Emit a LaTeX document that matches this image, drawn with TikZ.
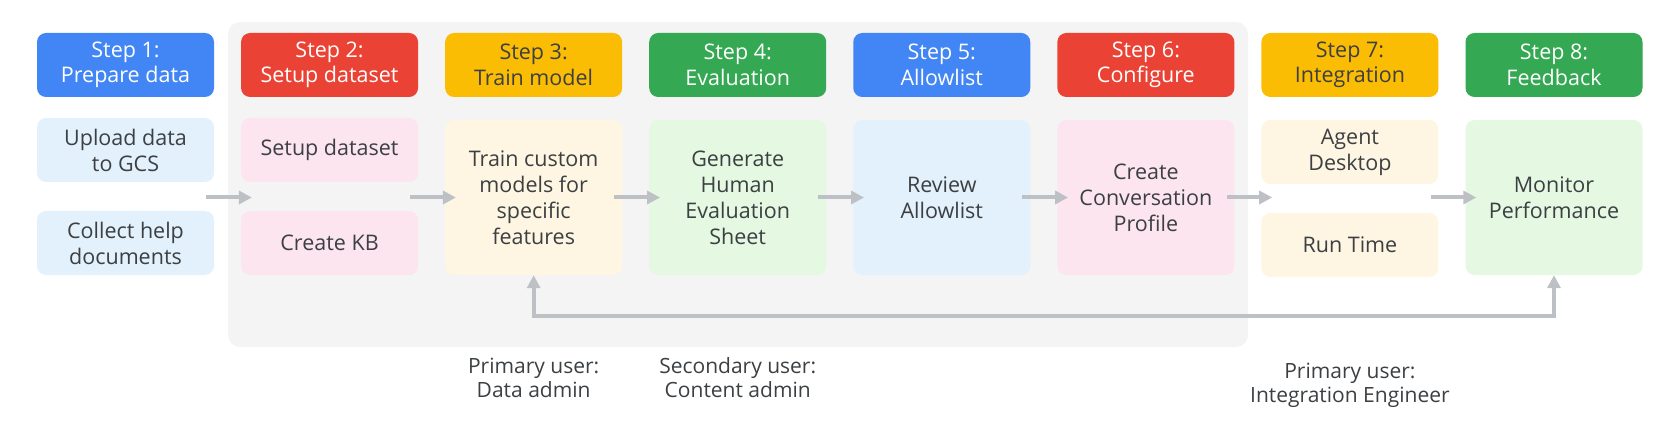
\documentclass[tikz,border=0pt]{standalone}
\usepackage{fontspec}
\setmainfont{Open Sans}
\usetikzlibrary{positioning,arrows.meta,backgrounds,calc}
\definecolor{gblue}{HTML}{4285F4}
\definecolor{gred}{HTML}{EA4335}
\definecolor{gyellow}{HTML}{FBBC04}
\definecolor{ggreen}{HTML}{34A853}
\definecolor{lblue}{HTML}{E3F1FC}
\definecolor{lpink}{HTML}{FCE5EE}
\definecolor{lyellow}{HTML}{FEF6E2}
\definecolor{lgreen}{HTML}{E4F8E2}
\definecolor{panel}{HTML}{F4F4F4}
\definecolor{ink}{HTML}{3C4043}
\definecolor{arrowgrey}{HTML}{BDC1C6}
\tikzset{
    head/.style={
        rectangle,
        rounded corners=9pt,
        minimum width=177pt,
        minimum height=64pt,
        inner sep=0pt,
        align=center,
        font=\fontsize{21.5}{25.5}\selectfont
    },
    task/.style={
        rectangle,
        rounded corners=9pt,
        minimum width=177pt,
        inner sep=0pt,
        align=center,
        text=ink,
        font=\fontsize{21.5}{26}\selectfont
    },
    note/.style={align=center, text=ink, font=\fontsize{21}{24}\selectfont},
    flow/.style={draw=arrowgrey, line width=4pt, -{Triangle[length=13pt,width=13pt]}},
    loop/.style={draw=arrowgrey, line width=4pt, {Triangle[length=13pt,width=13pt]}-{Triangle[length=13pt,width=13pt]}}
}

\begin{document}
\begin{tikzpicture}[x=1pt,y=-1pt]
    \useasboundingbox (0,0) rectangle (1680,438);

    % Pannello grigio dietro gli step 2-6
    \fill[panel, rounded corners=12pt] (228,22) rectangle (1248,347);

    % Intestazioni degli step
    \foreach \i/\col/\tc/\txt in {1/gblue/white/Prepare data, 2/gred/white/Setup dataset,
                                  3/gyellow/ink/Train model, 4/ggreen/white/Evaluation,
                                  5/gblue/white/Allowlist, 6/gred/white/Configure,
                                  7/gyellow/ink/Integration, 8/ggreen/white/Feedback}
        {
        \pgfmathsetmacro\cx{125.5+204.07*(\i-1)}
        \node[head, fill=\col, text=\tc] (h\i) at (\cx,65) {Step \i:\\\txt};
        }

    % Attivita' di ogni step
    \node[task, fill=lblue, minimum height=64pt] (upload) at (h1.center |- 0,150) {Upload data\\to GCS};
    \node[task, fill=lblue, minimum height=64pt] (collect) at (h1.center |- 0,243) {Collect help\\documents};
    \node[task, fill=lpink, minimum height=64pt] (setup) at (h2.center |- 0,150) {Setup dataset};
    \node[task, fill=lpink, minimum height=64pt] (kb) at (h2.center |- 0,243) {Create KB};
    \node[task, fill=lyellow, minimum height=155pt] (train) at (h3.center |- 0,197.5) {Train custom\\models for\\specific\\features};
    \node[task, fill=lgreen, minimum height=155pt] (eval) at (h4.center |- 0,197.5) {Generate\\Human\\Evaluation\\Sheet};
    \node[task, fill=lblue, minimum height=155pt] (review) at (h5.center |- 0,197.5) {Review\\Allowlist};
    \node[task, fill=lpink, minimum height=155pt] (profile) at (h6.center |- 0,197.5) {Create\\Conversation\\Profile};
    \node[task, fill=lyellow, minimum height=64pt] (agent) at (h7.center |- 0,152) {Agent\\Desktop};
    \node[task, fill=lyellow, minimum height=64pt] (runtime) at (h7.center |- 0,245) {Run Time};
    \node[task, fill=lgreen, minimum height=155pt] (monitor) at (h8.center |- 0,197.5) {Monitor\\Performance};

    % Frecce tra gli step
    \foreach \i [evaluate=\i as \j using int(\i+1)] in {1,...,7}
        \draw[flow] ($(h\i.east |- train.center)+(-8,0)$) -- ($(h\j.west |- train.center)+(11,0)$);

    % Ciclo di feedback
    \draw[loop] (train.south) -- ++(0,41) -| (monitor.south);

    % Utenti
    \node[note] (dataadmin) at (train.center |- 0,378) {Primary user:\\Data admin};
    \node[note] (contentadmin) at (eval.center |- 0,378) {Secondary user:\\Content admin};
    \node[note] (engineer) at (agent.center |- 0,385) {Primary user:\\Integration Engineer};

\end{tikzpicture}
\end{document}
